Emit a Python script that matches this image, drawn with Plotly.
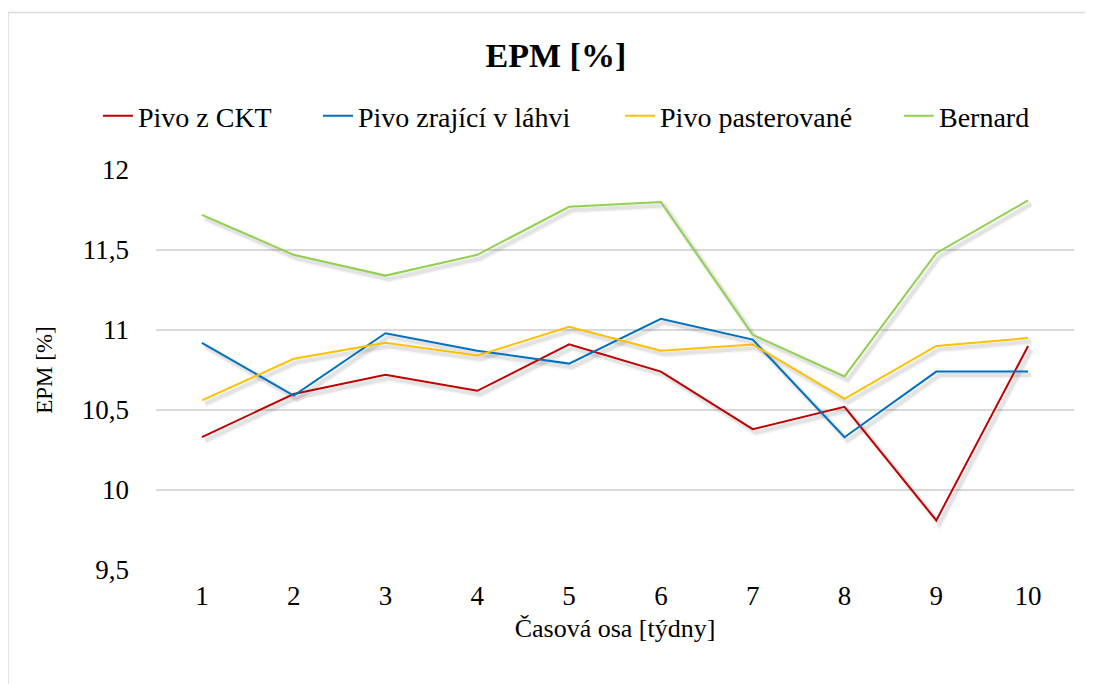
import plotly.graph_objects as go

weeks = [1, 2, 3, 4, 5, 6, 7, 8, 9, 10]
week_labels = ["1", "2", "3", "4", "5", "6", "7", "8", "9", "10"]
pivo_ckt = [10.33, 10.60, 10.72, 10.62, 10.91, 10.74, 10.38, 10.52, 9.81, 10.90]
pivo_lahev = [10.92, 10.59, 10.98, 10.87, 10.79, 11.07, 10.94, 10.33, 10.74, 10.74]
pivo_past = [10.56, 10.82, 10.92, 10.84, 11.02, 10.87, 10.91, 10.57, 10.90, 10.95]
bernard = [11.72, 11.47, 11.34, 11.47, 11.77, 11.80, 10.97, 10.71, 11.48, 11.81]
y_ticks = [9.5, 10, 10.5, 11, 11.5, 12]
y_tick_labels = ["9,5", "10", "10,5", "11", "11,5", "12"]

series = [
    ("Pivo z CKT", pivo_ckt, "#C00000", "legend"),
    ("Pivo zrající v láhvi", pivo_lahev, "#0070C0", "legend2"),
    ("Pivo pasterované", pivo_past, "#FFC000", "legend3"),
    ("Bernard", bernard, "#92D050", "legend4"),
]
legend_x = [0.0829, 0.2857, 0.5641, 0.8212]

fig = go.Figure()
# soft shadows
for name, vals, col, lg in series:
    for w, a in [(7, 0.04), (4, 0.07)]:
        fig.add_trace(go.Scatter(
            x=[v + 0.035 for v in weeks], y=[v - 0.022 for v in vals],
            mode="lines", line=dict(color=f"rgba(0,0,0,{a})", width=w),
            showlegend=False, hoverinfo="skip"))
for name, vals, col, lg in series:
    fig.add_trace(go.Scatter(x=weeks, y=vals, mode="lines", name=name,
                             legend=lg, line=dict(color=col, width=2)))

font = "Liberation Serif, Times New Roman, serif"
legends = {}
for (name, vals, col, lg), lx in zip(series, legend_x):
    legends[lg] = dict(orientation="h", x=lx, xanchor="left", xref="container",
                       y=0.840, yref="container", yanchor="middle",
                       font=dict(size=28, family=font), bgcolor="rgba(0,0,0,0)")

border = dict(color="#D9D9D9", width=1.5)
fig.update_layout(
    width=1085, height=676,
    margin=dict(l=148, r=19, t=162, b=114),
    paper_bgcolor="white", plot_bgcolor="white",
    font=dict(family=font, color="#000000"),
    title=dict(text="<b>EPM [%]</b>", x=0.505, xref="container", xanchor="center",
               y=0.9305, yref="container", yanchor="middle",
               font=dict(size=34, family=font, color="#000000")),
    xaxis=dict(range=[0.5, 10.5], tickmode="array", tickvals=weeks,
               ticktext=week_labels, showgrid=False, zeroline=False,
               showline=False, ticks="", tickfont=dict(size=27),
               ticklabelstandoff=7,
               title=dict(text="Časová osa [týdny]", font=dict(size=26), standoff=8)),
    yaxis=dict(range=[9.5, 12], tickmode="array", tickvals=y_ticks,
               ticktext=y_tick_labels, showgrid=True, gridcolor="#D9D9D9",
               gridwidth=1.5, zeroline=False, showline=False, ticks="",
               tickfont=dict(size=27), ticklabelstandoff=26,
               title=dict(text="EPM [%]", font=dict(size=23), standoff=22)),
    shapes=[
        dict(type="line", xref="paper", yref="paper",
             x0=-0.1612, x1=1.0207, y0=1.394, y1=1.394, line=border, layer="below"),
        dict(type="line", xref="paper", yref="paper",
             x0=-0.1612, x1=-0.1612, y0=-0.285, y1=1.394, line=border, layer="below"),
    ],
    **legends,
)

fig.write_html("out.html")
